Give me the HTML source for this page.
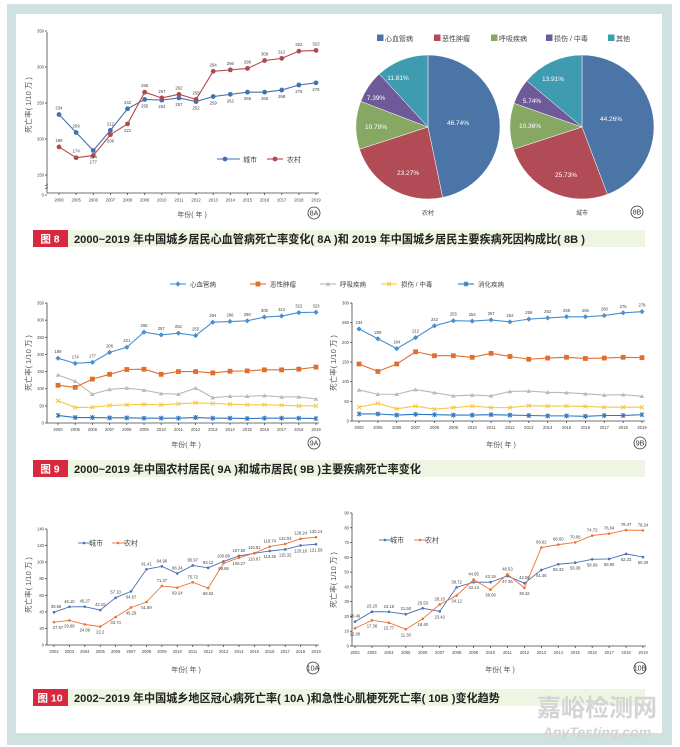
<!DOCTYPE html>
<html><head><meta charset="utf-8"><style>
body{margin:0;background:#fff;}
svg{display:block;font-family:"Liberation Sans","Noto Sans CJK SC",sans-serif;}
</style></head><body>
<svg id="s" width="680" height="747" viewBox="0 0 680 747" xmlns="http://www.w3.org/2000/svg">
<rect x="0" y="0" width="680" height="747" fill="#fff"/>
<rect x="7" y="4" width="665" height="741" fill="#cfe1e1"/>
<rect x="16" y="14" width="646" height="719" fill="#fff"/>
<g id="g"></g>
</svg>
<script>
var g=document.getElementById('g');var out='';
function T(x,y,t,o){o=o||{};out+='<text x="'+x+'" y="'+y+'" font-size="'+(o.fs||5)+'" fill="'+(o.c||'#555')+'" text-anchor="'+(o.a||'middle')+'"'+(o.w?' font-weight="bold"':'')+(o.tr?' transform="'+o.tr+'"':'')+(o.st?' font-style="italic"':'')+'>'+t+'</text>';}
function L(x1,y1,x2,y2,c,w){out+='<line x1="'+x1+'" y1="'+y1+'" x2="'+x2+'" y2="'+y2+'" stroke="'+c+'" stroke-width="'+(w||1)+'"/>';}
function mark(x,y,c,m,r){r=r||2.3;
 if(m=='c')out+='<circle cx="'+x+'" cy="'+y+'" r="'+r+'" fill="'+c+'"/>';
 else if(m=='d')out+='<path d="M'+x+' '+(y-2.6)+'L'+(x+2.6)+' '+y+'L'+x+' '+(y+2.6)+'L'+(x-2.6)+' '+y+'Z" fill="'+c+'"/>';
 else if(m=='s')out+='<rect x="'+(x-2.4)+'" y="'+(y-2.4)+'" width="4.8" height="4.8" fill="'+c+'"/>';
 else if(m=='t')out+='<path d="M'+x+' '+(y-2.2)+'L'+(x+2.3)+' '+(y+1.8)+'L'+(x-2.3)+' '+(y+1.8)+'Z" fill="'+c+'"/>';
 else if(m=='x'){L(x-2,y-2,x+2,y+2,c,1);L(x-2,y+2,x+2,y-2,c,1);}
 else if(m=='*'){L(x-2,y-2,x+2,y+2,c,1);L(x-2,y+2,x+2,y-2,c,1);L(x,y-2.5,x,y+2.5,c,1);}
}
function series(d,x0,x1,y0,sc,c,m,w,r){var pts=[];var n=d.length;for(var i=0;i<n;i++){pts.push([x0+(x1-x0)*i/(n-1),y0-d[i]*sc]);}
 out+='<polyline points="'+pts.map(function(p){return p.join(',')}).join(' ')+'" fill="none" stroke="'+c+'" stroke-width="'+(w||1.1)+'"/>';
 pts.forEach(function(p){mark(p[0],p[1],c,m,r)});return pts;}
function axes(ax,y0,ytop,x0,x1,years,ticks,sc,tfs){L(ax,ytop,ax,y0,'#444',0.8);L(ax,y0,x1+3,y0,'#444',0.8);
 ticks.forEach(function(t){var y=y0-t[1]*sc;L(ax-2,y,ax,y,'#444',0.8);T(ax-3,y+1.5,t[0],{fs:4.2,a:'end',c:'#444'});});
 var n=years.length;years.forEach(function(yr,i){var x=x0+(x1-x0)*i/(n-1);L(x,y0,x,y0+2,'#444',0.8);T(x,y0+8,yr,{fs:4.2,c:'#444'});});}
function circ(x,y,t){out+='<circle cx="'+x+'" cy="'+y+'" r="6" fill="none" stroke="#333" stroke-width="0.8"/>';T(x,y+2.5,t,{fs:7,c:'#333'});}
function ytitle(x,y){T(x,y,'死亡率( 1/10 万 )',{fs:7.5,c:'#555',tr:'rotate(-90 '+x+' '+y+')'});}
function caption(y,num,txt,w){out+='<rect x="68" y="'+y+'" width="'+w+'" height="17" fill="#eef5e2"/>';out+='<rect x="33" y="'+y+'" width="35" height="17" fill="#d8283e"/>';
 T(50,y+12.5,'图 '+num,{fs:10.5,c:'#fff',w:1});T(74,y+12.8,txt,{fs:11.1,c:'#222',a:'start',w:1});}
var Y1=[2000,2005,2006,2007,2008,2009,2010,2011,2012,2013,2014,2015,2016,2017,2018,2019];
var Y2=[];for(var i=2002;i<=2019;i++)Y2.push(i);
// ===== 8A
(function(){var sc=0.72,y0=283;
 L(47,32,47,193,'#444',0.8);L(47,193,319,193,'#444',0.8);
 [[350,350],[300,300],[250,250],[200,200],[150,150]].forEach(function(t){var y=y0-t[1]*sc;L(45,y,47,y,'#444',0.8);T(44,y+1.5,t[0],{fs:4.2,a:'end',c:'#444'});});
 L(45,195,47,195,'#444',0.8);T(44,196.5,'0',{fs:4.2,a:'end',c:'#444'});
 out+='<path d="M45 186 l3 -2 M45 189 l3 -2" stroke="#444" stroke-width="0.7"/>';
 Y1.forEach(function(yr,i){var x=59+257*i/15;L(x,193,x,195,'#444',0.8);T(x,201.5,yr,{fs:4.2,c:'#444'});});
 var city=[234,209,184,212,242,255,254,257,252,259,262,265,265,268,275,278];
 var rur=[189,174,177,206,221,265,257,262,255,294,296,298,309,312,322,323];
 var pc=series(city,59,316,y0,sc,'#4272ad','c',1.1,2.4);
 var pr=series(rur,59,316,y0,sc,'#b4484f','c',1.1,2.4);
 pc.forEach(function(p,i){var below=i>=5||i==2;T(p[0],below?p[1]+8:p[1]-5,city[i],{fs:4.3,c:'#444'});});
 pr.forEach(function(p,i){var below=i==2||i==3||i==4;T(p[0],below?p[1]+8:p[1]-5,rur[i],{fs:4.3,c:'#444'});});
 L(217,159,240,159,'#4272ad',1.1);mark(225,159,'#4272ad','c',2.4);T(243,162,'城市',{fs:7,a:'start',c:'#444'});
 L(267,159,283,159,'#b4484f',1.1);mark(275,159,'#b4484f','c',2.4);T(287,162,'农村',{fs:7,a:'start',c:'#444'});
 ytitle(31,105);T(192,217,'年份( 年 )',{fs:7,c:'#555'});circ(314,213,'8A');
})();
// ===== 8B pies
function pie(cx,cy,r,vals,cols,labs){var a=-Math.PI/2;vals.forEach(function(v,i){var b=a+v/100*2*Math.PI;var x1=cx+r*Math.cos(a),y1=cy+r*Math.sin(a),x2=cx+r*Math.cos(b),y2=cy+r*Math.sin(b);
 out+='<path d="M'+cx+' '+cy+'L'+x1+' '+y1+'A'+r+' '+r+' 0 '+(v>50?1:0)+' 1 '+x2+' '+y2+'Z" fill="'+cols[i]+'" stroke="#fff" stroke-width="0.5"/>';a=b;});
 labs.forEach(function(l){T(l[0],l[1],l[2],{fs:6.5,c:'#fff'});});}
var PC=['#4a75a6','#b14b56','#87a863','#6e5a98','#3f9bb0'];
pie(428,127,72,[46.74,23.27,10.79,7.39,11.81],PC,[[458,125,'46.74%'],[408,175,'23.27%'],[376,129,'10.79%'],[376,100,'7.39%'],[398,80,'11.81%']]);
pie(582,127,72,[44.26,25.73,10.36,5.74,13.91],PC,[[611,121,'44.26%'],[566,177,'25.73%'],[530,128,'10.36%'],[532,103,'5.74%'],[553,81,'13.91%']]);
T(428,215,'农村',{fs:6,c:'#444'});T(582,215,'城市',{fs:6,c:'#444'});circ(637,212,'8B');
[[377,'心血管病'],[434,'恶性肿瘤'],[491,'呼吸疾病'],[546,'损伤 / 中毒'],[608,'其他']].forEach(function(l,i){out+='<rect x="'+l[0]+'" y="34.5" width="6.5" height="6.5" fill="'+PC[i]+'"/>';T(l[0]+8,41,l[1],{fs:7,a:'start',c:'#444'});});
caption(230,'8','2000~2019 年中国城乡居民心血管病死亡率变化( 8A )和 2019 年中国城乡居民主要疾病死因构成比( 8B )',577);
// ===== 9
var C9=['#4a8fd0','#e06f2e','#b9b9b9','#f5c842','#2f76c0'],M9=['d','s','t','x','*'];
[[170,'心血管病'],[250,'恶性肿瘤'],[320,'呼吸疾病'],[381,'损伤 / 中毒'],[458,'消化疾病']].forEach(function(l,i){L(l[0],284,l[0]+16,284,C9[i],1.1);mark(l[0]+8,284,C9[i],M9[i]);T(l[0]+20,286.5,l[1],{fs:6.5,a:'start',c:'#444'});});
(function(){var y0=423,sc=120/350;axes(47,y0,303,58,316,Y1,[[0,0],[50,50],[100,100],[150,150],[200,200],[250,250],[300,300],[350,350]],sc);
 var D=[[189,174,177,206,221,265,257,262,255,294,296,298,309,312,322,323],[110,104,128,142,156,157,142,150,150,146,151,152,155,155,157,163],[140,122,84,98,102,96,86,84,102,74,78,78,80,76,76,70],[65,45,46,51,53,54,53,56,59,57,55,53,53,52,50,50],[22,16,16,15,15,14,14,14,16,14,14,13,14,14,14,13]];
 for(var k=4;k>=0;k--){var p=series(D[k],58,316,y0,sc,C9[k],M9[k],1.1);if(k==0)p.forEach(function(q,i){T(q[0],q[1]-5,D[0][i],{fs:4.2,c:'#444'});});}
 ytitle(31,363);T(186,447,'年份( 年 )',{fs:7,c:'#555'});circ(314,443,'9A');})();
(function(){var y0=421,sc=118/300;axes(352,y0,303,359,642,Y1,[[0,0],[50,50],[100,100],[150,150],[200,200],[250,250],[300,300]],sc);
 var D=[[234,209,184,212,242,255,254,257,252,259,262,265,265,268,275,278],[145,126,145,176,166,166,162,172,164,157,160,162,159,160,162,161],[79,68,68,80,72,64,66,64,75,76,73,72,69,66,67,63],[35,45,31,38,30,34,38,34,34,39,38,38,37,35,35,35],[18,18,15,17,16,15,15,16,15,14,13,13,12,14,14,16]];
 for(var k=4;k>=0;k--){var p=series(D[k],359,642,y0,sc,C9[k],M9[k],1.1);if(k==0)p.forEach(function(q,i){T(q[0],q[1]-5,D[0][i],{fs:4.2,c:'#444'});});}
 ytitle(336,363);T(501,447,'年份( 年 )',{fs:7,c:'#555'});circ(640,443,'9B');})();
caption(460,'9','2000~2019 年中国农村居民( 9A )和城市居民( 9B )主要疾病死亡率变化',577);
// ===== 10
var CB='#4a70b6',CO='#f07232';
(function(){var y0=645,sc=116/140;axes(47,y0,529,54,316,Y2,[[0,0],[20,20],[40,40],[60,60],[80,80],[100,100],[120,120],[140,140]],sc);
 var cs=['39.56','46.10','46.27','42.10','57.10','64.67','91.41','94.96','86.34','95.97','93.12','100.86','107.50','110.67','113.46','115.32','120.18','121.59'];
 var rs=['27.57','29.68','24.89','22.2','33.74','45.29','51.89','71.27','69.24','75.72','68.62','98.68','105.27','110.91','118.74','122.04','128.24','130.14'];
 var pc=series(cs.map(Number),54,316,y0,sc,CB,'c',0.9,1.3),pr=series(rs.map(Number),54,316,y0,sc,CO,'c',0.9,1.3);
 pc.forEach(function(q,i){var below=(i==5||i>=13);T(q[0]+(i==0?2:0),below?q[1]+7:q[1]-4,cs[i],{fs:4.2,c:'#444'});});
 pr.forEach(function(q,i){var above=(i==7||i==9||i>=13);T(q[0]+(i==0?4:0),above?q[1]-4:q[1]+7,rs[i],{fs:4.2,c:'#444'});});
 L(78,543,90,543,CB,0.9);mark(84,543,CB,'c',1.3);T(89,545.5,'城市',{fs:7,a:'start',c:'#444'});
 L(112,543,125,543,CO,0.9);mark(118,543,CO,'c',1.3);T(124,545.5,'农村',{fs:7,a:'start',c:'#444'});
 ytitle(31,585);T(186,672,'年份( 年 )',{fs:7,c:'#555'});circ(313,668,'10A');})();
(function(){var y0=646,sc=133/90;axes(352,y0,513,355,643,Y2,[[0,0],[10,10],[20,20],[30,30],[40,40],[50,50],[60,60],[70,70],[80,80],[90,90]],sc);
 var c=['16.46','23.20','23.16','21.50','25.53','23.42','39.72','43.14','43.19','47.36','42.50','51.46','55.32','56.38','58.69','58.90','62.33','60.20'];
 var r=['12.00','17.36','15.77','11.30','18.40','28.10','34.12','44.95','38.09','48.53','39.32','66.62','68.60','70.09','74.72','76.04','78.47','78.24'];
 var pc=series(c.map(Number),355,643,y0,sc,CB,'c',0.9,1.3),pr=series(r.map(Number),355,643,y0,sc,CO,'c',0.9,1.3);
 pc.forEach(function(q,i){var below=(i==5||i==7||i==9||i>=11);T(q[0],below?q[1]+7:q[1]-4,c[i],{fs:4.2,c:'#444'});});
 pr.forEach(function(q,i){var above=(i==5||i==7||i==9||i>=11);T(q[0],above?q[1]-4:q[1]+7,r[i],{fs:4.2,c:'#444'});});
 L(379,540,391,540,CB,0.9);mark(385,540,CB,'c',1.3);T(390,542.5,'城市',{fs:7,a:'start',c:'#444'});
 L(414,540,426,540,CO,0.9);mark(420,540,CO,'c',1.3);T(425,542.5,'农村',{fs:7,a:'start',c:'#444'});
 ytitle(336,580);T(500,672,'年份( 年 )',{fs:7,c:'#555'});circ(640,668,'10B');})();
caption(689,'10','2002~2019 年中国城乡地区冠心病死亡率( 10A )和急性心肌梗死死亡率( 10B )变化趋势',577);
T(597,716,'嘉峪检测网',{fs:24,c:'#d4d4d4',w:1});T(597,737,'AnyTesting.com',{fs:14,c:'#d4d4d4',w:1,st:1});
g.innerHTML=out;
</script>
</body></html>
